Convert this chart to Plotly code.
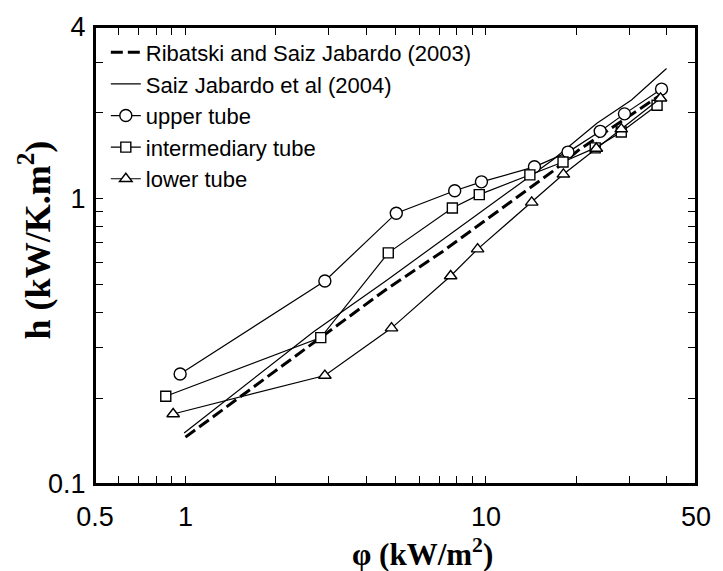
import math
import plotly.graph_objects as go

# Data
rib_x = [1.0, 2.82, 4.64, 7.2, 16.7, 20.5, 27.7, 39.5]
rib_y = [0.146, 0.326, 0.48, 0.655, 1.25, 1.49, 1.84, 2.37]

saiz_x = [0.99, 2.67, 4.64, 8.5, 16.7, 23.4, 30.5, 39.9]
saiz_y = [0.151, 0.342, 0.515, 0.815, 1.37, 1.84, 2.22, 2.86]

upper_x = [0.96, 2.91, 5.03, 7.87, 9.66, 14.5, 18.75, 24.0, 28.9, 38.4]
upper_y = [0.243, 0.515, 0.89, 1.067, 1.146, 1.294, 1.457, 1.723, 1.984, 2.423]

inter_x = [0.86, 2.82, 4.73, 7.73, 9.50, 14.0, 18.05, 23.1, 28.2, 37.1]
inter_y = [0.203, 0.326, 0.646, 0.928, 1.034, 1.212, 1.345, 1.508, 1.714, 2.127]

lower_x = [0.91, 2.91, 4.85, 7.63, 9.38, 14.2, 18.1, 23.3, 28.2, 38.1]
lower_y = [0.176, 0.240, 0.352, 0.536, 0.666, 0.971, 1.218, 1.50, 1.755, 2.25]

x_major = [0.5, 1, 10, 50]
x_major_text = ["0.5", "1", "10", "50"]
x_minor = [0.6, 0.7, 0.8, 0.9, 2, 3, 4, 5, 6, 7, 8, 9, 20, 30, 40]
y_major = [0.1, 1, 4]
y_major_text = ["0.1", "1", "4"]
y_minor = [0.2, 0.3, 0.4, 0.5, 0.6, 0.7, 0.8, 0.9, 2, 3]

fig = go.Figure()
fig.add_trace(go.Scatter(x=rib_x, y=rib_y, mode="lines",
                         name="Ribatski and Saiz Jabardo (2003)",
                         line=dict(color="black", width=3, dash="12px,5px")))
fig.add_trace(go.Scatter(x=saiz_x, y=saiz_y, mode="lines",
                         name="Saiz Jabardo et al (2004)",
                         line=dict(color="black", width=1.2)))
mk = dict(color="white", line=dict(color="black", width=1.4))
fig.add_trace(go.Scatter(x=upper_x, y=upper_y, mode="lines+markers", name="upper tube",
                         line=dict(color="black", width=1.2),
                         marker=dict(symbol="circle", size=12, **mk)))
fig.add_trace(go.Scatter(x=inter_x, y=inter_y, mode="lines+markers", name="intermediary tube",
                         line=dict(color="black", width=1.2),
                         marker=dict(symbol="square", size=10, **mk)))
fig.add_trace(go.Scatter(x=lower_x, y=lower_y, mode="lines+markers", name="lower tube",
                         line=dict(color="black", width=1.2),
                         marker=dict(symbol="triangle-up", size=11, **mk)))

tick_common = dict(showgrid=False, zeroline=False, showline=True, linecolor="black",
                   linewidth=2, mirror="allticks", ticks="inside", ticklen=8,
                   tickwidth=1, tickcolor="black", tickmode="array")

fig.update_layout(
    width=723, height=571,
    margin=dict(l=95, r=18, t=23, b=87),
    paper_bgcolor="white", plot_bgcolor="white",
    font=dict(family="Liberation Sans, Arial, sans-serif", color="black"),
    showlegend=True,
    legend=dict(x=0.018, y=0.99, xanchor="left", yanchor="top",
                bgcolor="rgba(0,0,0,0)", font=dict(size=22),
                itemwidth=30, tracegroupgap=0),
    xaxis=dict(type="log", range=[math.log10(0.5), math.log10(50)],
               tickvals=x_major, ticktext=x_major_text,
               tickfont=dict(size=27), ticklabelstandoff=8,
               minor=dict(tickmode="array", tickvals=x_minor, ticks="inside",
                          ticklen=8, tickwidth=1, tickcolor="black", showgrid=False),
               **tick_common),
    yaxis=dict(type="log", range=[math.log10(0.1), math.log10(4)],
               tickvals=y_major, ticktext=y_major_text,
               tickfont=dict(size=27), ticklabelstandoff=2,
               minor=dict(tickmode="array", tickvals=y_minor, ticks="inside",
                          ticklen=8, tickwidth=1, tickcolor="black", showgrid=False),
               **tick_common),
    shapes=[dict(type="rect", xref="paper", yref="paper", x0=0, y0=0, x1=1, y1=1,
                 line=dict(color="black", width=2), layer="above")],
    annotations=[
        dict(text="<b>φ (kW/m<sup>2</sup>)</b>", xref="paper", yref="paper",
             x=0.545, y=-0.102, xanchor="center", yanchor="top", showarrow=False,
             font=dict(family="Liberation Serif, Times New Roman, serif", size=31)),
        dict(text="<b>h (kW/K.m<sup>2</sup>)</b>", xref="paper", yref="paper",
             x=-0.1, y=0.535, xanchor="center", yanchor="middle", showarrow=False,
             textangle=-90,
             font=dict(family="Liberation Serif, Times New Roman, serif", size=36)),
    ],
)

fig.write_html("out.html", config={"displayModeBar": False},
               post_script="document.body.style.margin='0px';")
